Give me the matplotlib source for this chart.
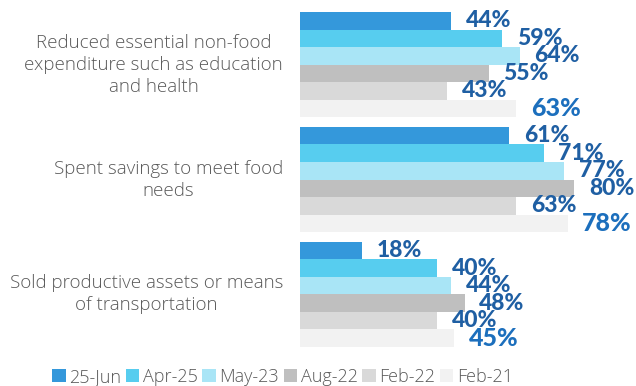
import matplotlib
matplotlib.use("Agg")
import matplotlib.pyplot as plt
from matplotlib.patches import Patch
from matplotlib.transforms import IdentityTransform
import numpy as np

categories = [
    "Reduced essential non-food\nexpenditure such as education\nand health",
    "Spent savings to meet food\nneeds",
    "Sold productive assets or means\nof transportation",
]
rounds = ["25-Jun", "Apr-25", "May-23", "Aug-22", "Feb-22", "Feb-21"]
values = {
    "25-Jun": [44, 61, 18],
    "Apr-25": [59, 71, 40],
    "May-23": [64, 77, 44],
    "Aug-22": [55, 80, 48],
    "Feb-22": [43, 63, 40],
    "Feb-21": [63, 78, 45],
}
colors = ["#3498DB", "#57CDEF", "#A9E5F6", "#BFBFBF", "#D9D9D9", "#F2F2F2"]

LABEL_BLUE = "#1F5FA3"
TEXT_GREY = "#595959"
CAT_FONT = dict(family="Open Sans", fontweight="light", fontsize=13.5, color=TEXT_GREY)

fig = plt.figure(figsize=(6.36, 3.86), dpi=100)
ax = fig.add_axes([300 / 636, 39 / 386, 336 / 636, 335 / 386])

group_pitch = 6.55
bar_h = 1.0
for s, name in enumerate(rounds):
    ys = np.arange(len(categories)) * group_pitch + s
    vals = values[name]
    ax.barh(ys, vals, height=bar_h, color=colors[s], edgecolor="none")
    last = name == "Feb-21"
    for y, v in zip(ys, vals):
        ax.annotate(f"{v}%", (v, y), xytext=(10.5, 0), textcoords="offset points",
                    ha="left", va="center", family="Lato", fontweight="black",
                    fontsize=18 if last else 16.5,
                    color="#1C6FBD" if last else LABEL_BLUE)

ax.set_xlim(0, 336 / 3.43)
ax.set_ylim(2 * group_pitch + 5.5, -0.5)
ax.axis("off")

# category labels: block right-aligned next to the bars, each line centred
renderer = fig.canvas.get_renderer()
line_px = 22
for g, cat in enumerate(categories):
    lines = cat.split("\n")
    widths = []
    for ln in lines:
        tmp = fig.text(0, 0, ln, **CAT_FONT)
        widths.append(tmp.get_window_extent(renderer).width)
        tmp.remove()
    right_px, cy_px = ax.transData.transform((0, g * group_pitch + 2.5))
    right_px -= 17
    cx_px = right_px - max(widths) / 2
    for i, ln in enumerate(lines):
        y_px = cy_px - line_px * (i - (len(lines) - 1) / 2)
        fig.text(cx_px, y_px, ln, ha="center", va="center",
                 transform=IdentityTransform(), **CAT_FONT)

handles = [Patch(facecolor=c, edgecolor="none") for c in colors]
fig.legend(handles, rounds, loc="center left", bbox_to_anchor=(43 / 636, 9 / 386),
           ncol=6, frameon=False, handlelength=0.75, handleheight=0.75,
           handletextpad=0.2, columnspacing=0.25, borderpad=0,
           prop={"family": "Open Sans", "weight": "light", "size": 13},
           labelcolor=TEXT_GREY)

fig.savefig("out.png", dpi=100, facecolor="white")
